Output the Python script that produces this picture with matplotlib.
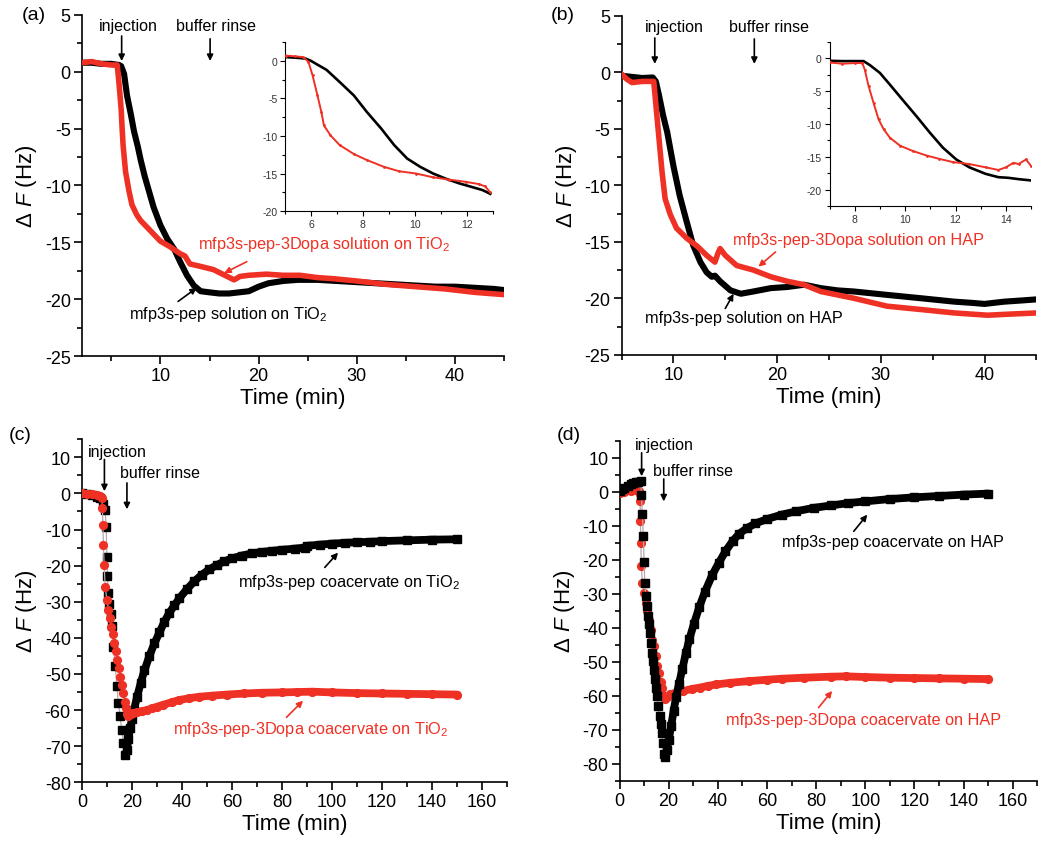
import numpy as np
import matplotlib
matplotlib.use("Agg")
import matplotlib.pyplot as plt
from matplotlib.ticker import MultipleLocator

plt.rcParams['font.family'] = ['Liberation Sans', 'DejaVu Sans']
plt.rcParams['mathtext.fontset'] = 'custom'
plt.rcParams['mathtext.rm'] = 'Liberation Sans'
plt.rcParams['mathtext.it'] = 'Liberation Sans:italic'
plt.rcParams['axes.unicode_minus'] = False

RED = '#EE3124'
BLACK = '#000000'

# ---------------- data (time in min, delta F in Hz) ----------------
# (a) solution on TiO2
a_black = [(2, 0.8), (3, 0.8), (4, 0.7), (5, 0.7), (5.8, 0.6), (6.0, 0.5), (6.3, -0.2), (6.6, -2.1),
           (7.0, -3.8), (7.3, -5.2), (7.7, -6.6), (8.0, -7.8), (8.4, -9.2), (8.8, -10.4), (9.3, -11.9),
           (10.0, -13.5), (10.7, -14.7), (11.4, -15.6), (12.0, -16.7), (12.7, -17.9), (13.4, -18.8),
           (14.1, -19.3), (15.0, -19.4), (16.0, -19.5), (17.0, -19.5), (18.0, -19.4), (19.0, -19.3),
           (20.0, -18.9), (21.0, -18.6), (22.5, -18.4), (24, -18.3), (26, -18.3), (28, -18.4),
           (30, -18.5), (32, -18.6), (34, -18.7), (36, -18.8), (38, -18.9), (40, -18.9), (42, -19.0),
           (44, -19.1), (45, -19.2)]
a_red = [(2, 0.8), (3, 0.9), (4, 0.7), (5, 0.6), (5.6, 0.6), (5.8, -1.2), (6.0, -3.3), (6.1, -5.0),
         (6.2, -6.5), (6.45, -8.8), (6.8, -10.5), (7.1, -11.7), (7.6, -12.6), (8.0, -13.1), (9.0, -14.0),
         (10.0, -14.9), (11.0, -15.4), (12.0, -16.0), (12.5, -16.2), (13.0, -16.9), (14.0, -17.1),
         (15.4, -17.4), (16.8, -18.0), (17.5, -18.3), (18.1, -18.0), (19.0, -17.9), (20.8, -17.8),
         (22.5, -17.9), (24.2, -17.9), (26, -18.1), (27.6, -18.2), (30, -18.4), (33, -18.7),
         (36, -18.9), (39, -19.1), (42, -19.4), (45, -19.6)]
a_in_black = [(5.05, 0.5), (5.5, 0.4), (5.8, 0.3), (6.0, 0.0), (6.6, -1.2), (7.1, -2.8), (7.65, -4.6),
              (8.15, -6.8), (8.7, -9.0), (9.2, -11.2), (9.7, -13.0), (10.2, -14.1), (10.7, -15.0),
              (11.2, -15.7), (11.7, -16.3), (12.2, -16.8), (12.6, -17.2), (12.9, -17.7)]
a_in_red = [(5.05, 0.7), (5.4, 0.6), (5.7, 0.5), (5.9, -0.1), (6.06, -1.9), (6.25, -4.6), (6.4, -6.8),
            (6.5, -8.6), (6.75, -9.9), (7.1, -11.2), (7.65, -12.4), (8.15, -13.2), (8.8, -14.1),
            (9.4, -14.7), (10.05, -15.0), (10.7, -15.5), (11.3, -15.8), (11.95, -16.1), (12.45, -16.4),
            (12.7, -16.7), (12.9, -17.5)]

# (b) solution on HAP
b_black = [(5, -0.3), (6, -0.4), (7, -0.5), (8, -0.45), (8.3, -0.8), (8.6, -2.0), (9.0, -3.8),
           (9.4, -5.3), (10.0, -8.3), (10.6, -10.9), (11.3, -13.3), (11.9, -15.3), (12.6, -16.8),
           (13.2, -17.7), (13.7, -18.1), (14.0, -18.0), (14.5, -18.5), (15.5, -19.3), (16.5, -19.6),
           (17.7, -19.4), (19.4, -19.1), (21, -19.0), (22.6, -18.8), (24.2, -19.1), (25.8, -19.3),
           (27.4, -19.4), (30.6, -19.7), (33.9, -20.0), (37.1, -20.3), (38.7, -20.4), (40, -20.5),
           (41.9, -20.3), (43.5, -20.2), (45, -20.1)]
b_red = [(5, -0.15), (5.5, -0.6), (6, -0.9), (7, -0.8), (8.1, -0.8), (8.2, -1.8), (8.4, -3.8),
         (8.7, -6.8), (8.9, -8.8), (9.2, -11.2), (9.7, -12.6), (10.3, -13.8), (11.3, -14.7),
         (12.3, -15.4), (13.2, -16.2), (14.0, -16.8), (14.3, -16.0), (14.5, -15.6), (15.0, -16.2),
         (16.1, -17.1), (17.7, -17.5), (19.4, -18.1), (21, -18.5), (22.6, -18.8), (24.2, -19.4),
         (27.4, -20.0), (30.6, -20.7), (33.9, -21.0), (37.1, -21.3), (40.3, -21.5), (42.5, -21.4),
         (45, -21.3)]
b_in_black = [(7.0, -0.35), (7.5, -0.4), (8.0, -0.4), (8.35, -0.4), (8.6, -1.0), (9.0, -2.2), (9.4, -4.0),
              (9.9, -6.3), (10.45, -8.8), (10.98, -11.3), (11.5, -13.6), (12.03, -15.4), (12.55, -16.6),
              (13.2, -17.6), (13.7, -18.1), (14.1, -18.2), (14.5, -18.4), (15.0, -18.6)]
b_in_red = [(7.0, -0.6), (7.5, -0.8), (8.0, -0.7), (8.3, -0.7), (8.4, -1.7), (8.55, -4.2), (8.75, -6.8),
            (8.95, -9.3), (9.15, -10.8), (9.4, -12.1), (9.8, -13.3), (10.3, -14.1), (10.85, -14.8),
            (11.35, -15.3), (11.9, -15.8), (12.55, -16.1), (13.2, -16.6), (13.7, -17.0), (14.0, -16.6),
            (14.3, -15.9), (14.5, -16.1), (14.8, -15.4), (15.0, -16.4)]

# (c) coacervate on TiO2
c_black = [(0, 0), (2, -0.1), (4, -0.4), (6, -0.9), (7.3, -1.4), (8.4, -2.8), (9.3, -4.6), (9.7, -9.2),
           (10.0, -17.5), (10.2, -23), (10.6, -27.6), (11.0, -30.5), (11.5, -33.5), (12.0, -36.8),
           (12.6, -42.4), (13.3, -47.9), (14.0, -53.4), (14.6, -58), (15.3, -61.7), (15.9, -65.5),
           (16.6, -69), (17.3, -72.5), (18.0, -71), (18.6, -68), (19.3, -65), (20.0, -62.5), (20.8, -60),
           (22, -56.5), (23.5, -52.5), (25, -49), (27, -45), (29, -41.5), (31, -38.5), (33, -35.5),
           (35, -33), (37, -31), (39, -29), (42, -26.5), (45, -24.3), (48, -22.5), (51, -21), (54, -19.8),
           (57, -18.8), (60, -18), (64, -17.2), (68, -16.6), (72, -16.2), (76, -15.9), (80, -15.6),
           (85, -15.3), (89, -15.0), (90, -14.5), (95, -14.2), (100, -13.9), (105, -13.7), (110, -13.5),
           (115, -13.4), (120, -13.2), (130, -13.0), (140, -12.8), (150, -12.7)]
c_red = [(0, 0), (2, -0.1), (4, -0.2), (6, -0.4), (7.3, -0.6), (8.0, -1.4), (8.2, -4.1), (8.4, -8.7),
         (8.6, -14.3), (8.9, -19.8), (9.3, -25.8), (10.0, -29.5), (10.6, -32.2), (11.2, -34.6),
         (11.8, -36.9), (12.4, -39.0), (13.0, -41.5), (13.6, -43.6), (14.2, -46.2), (14.8, -48.3),
         (15.4, -50.8), (16.0, -53.1), (16.6, -55.3), (17.2, -57.8), (17.7, -59.5), (18.2, -61.0),
         (18.6, -61.7), (19.5, -61.2), (20.6, -60.8), (22, -60.6), (24, -60.3), (26, -60.0), (28, -59.5),
         (30, -59.1), (32.6, -58.5), (36, -57.8), (39, -57.2), (43, -56.7), (47, -56.3), (52, -56.0),
         (58, -55.7), (65, -55.4), (72, -55.2), (80, -55.1), (86, -55.0), (92, -54.9), (100, -55.1),
         (110, -55.3), (120, -55.4), (130, -55.5), (140, -55.6), (150, -55.7)]

# (d) coacervate on HAP
d_black = [(0, 0.2), (1, 0.8), (2, 1.2), (3.3, 1.7), (4.5, 2.2), (5.5, 2.5), (6.7, 2.8), (7.7, 3.0),
           (8.7, 3.1), (8.9, -0.8), (9.3, -6.5), (9.7, -13), (10.0, -20.7), (10.3, -26.8), (10.7, -30.7),
           (11.1, -33.6), (11.6, -36.6), (12.0, -39), (12.4, -41.5), (12.7, -44.4), (13.1, -47.4),
           (13.6, -49.8), (14.0, -52.3), (14.4, -55.2), (14.9, -57.6), (15.3, -60), (15.7, -63),
           (16.3, -66), (16.7, -68.4), (17.1, -70.9), (17.6, -73.8), (18.0, -77.3), (18.4, -78),
           (19.2, -76), (20.0, -73), (21.0, -69), (22.0, -64.5), (23.0, -60.5), (24.2, -56.5),
           (25.6, -52), (27.0, -47.5), (28.4, -43.4), (30.2, -39), (32.4, -34), (34.7, -29.5),
           (37.7, -24.5), (40.3, -21), (43.1, -17.5), (46, -14.5), (48.7, -12.3), (52, -10.6),
           (55.3, -9.3), (60, -8.0), (66, -6.7), (72, -5.7), (79, -4.7), (86, -4.0), (93, -3.3),
           (100, -2.8), (110, -2.1), (120, -1.6), (130, -1.2), (140, -0.8), (150, -0.5)]
d_red = [(0, -0.3), (2, -0.1), (4.7, 0.2), (6.5, 0.7), (7.8, 0.4), (8.3, -0.5), (8.4, -2.7), (8.5, -8.6),
         (8.7, -15), (8.9, -21.9), (9.3, -26.8), (10.0, -29.7), (10.7, -32.6), (11.3, -35), (12.0, -37.6),
         (12.7, -40.6), (13.4, -43.5), (14.0, -45.5), (14.7, -48.3), (15.4, -51.2), (16.0, -53.2),
         (16.7, -56), (17.3, -57.6), (18.0, -60), (18.7, -61), (19.5, -60.3), (20.7, -59.6), (23, -59.1),
         (26, -58.6), (29.5, -58.0), (32.7, -57.6), (36, -57.1), (39.3, -56.7), (45, -56.2),
         (52.7, -55.7), (60, -55.3), (66, -55.0), (75, -54.7), (86, -54.4), (92, -54.3), (100, -54.5),
         (110, -54.7), (120, -54.8), (130, -54.9), (140, -55.0), (150, -55.1)]

# ---------------- drawing ----------------
fig = plt.figure(figsize=(10.5, 8.45), dpi=100)


def xy(pairs):
    arr = np.asarray(pairs, dtype=float)
    return arr[:, 0], arr[:, 1]


def style(ax, xmaj, xmin, ymaj, ymin, fs=13, lw=1.2, L=6, l=3.5):
    for s in ['top', 'right']:
        ax.spines[s].set_visible(False)
    for s in ['left', 'bottom']:
        ax.spines[s].set_linewidth(lw)
    ax.xaxis.set_major_locator(MultipleLocator(xmaj))
    ax.xaxis.set_minor_locator(MultipleLocator(xmin))
    ax.yaxis.set_major_locator(MultipleLocator(ymaj))
    ax.yaxis.set_minor_locator(MultipleLocator(ymin))
    ax.tick_params(which='major', direction='out', length=L, width=lw, labelsize=fs, pad=2)
    ax.tick_params(which='minor', direction='out', length=l, width=lw)


def arrow(ax, start, end, color):
    ax.annotate('', xy=end, xytext=start,
                arrowprops=dict(arrowstyle='-|>', color=color, lw=1.2,
                                mutation_scale=9, shrinkA=0, shrinkB=0))


def label_axes(ax):
    ax.set_xlabel('Time (min)', fontsize=16, labelpad=2)
    ax.set_ylabel('Δ $F$ (Hz)', fontsize=16, labelpad=4)


def solution_panel(rect, black, red, xlim, ins_rect, ins_black, ins_red, ins_xlim, ins_ylim, ins_xt):
    ax = fig.add_axes(rect)
    t, f = xy(black)
    ax.plot(t, f, color=BLACK, lw=4.4, solid_joinstyle='round', solid_capstyle='round', zorder=2)
    t, f = xy(red)
    ax.plot(t, f, color=RED, lw=4.0, solid_joinstyle='round', solid_capstyle='round', zorder=3)
    ax.set_xlim(*xlim)
    ax.set_ylim(-25, 5)
    style(ax, 10, 5, 5, 2.5)
    label_axes(ax)
    ins = fig.add_axes(ins_rect)
    t, f = xy(ins_black)
    ins.plot(t, f, color=BLACK, lw=1.9, zorder=2)
    t, f = xy(ins_red)
    ins.plot(t, f, color=RED, lw=1.4, zorder=3, marker='.', ms=2)
    ins.set_xlim(*ins_xlim)
    ins.set_ylim(*ins_ylim)
    style(ins, 2, 1, 5, 2.5, fs=7.5, lw=0.8, L=3.5, l=2)
    ins.set_xticks(ins_xt)
    ins.tick_params(labelcolor='#333333')
    return ax


def coacervate(ax, pairs, marker, color, ms, t_inj, z):
    t, f = xy(pairs)
    imin = int(np.argmin(f))
    ax.plot(t, f, color='#b8a8a8', lw=0.9, zorder=z)
    base = t <= t_inj
    ax.plot(t[base], f[base], color=color, lw=5.0, zorder=z, solid_capstyle='round')
    ax.plot(t[imin:], f[imin:], color=color, lw=5.6, zorder=z, solid_capstyle='round',
            solid_joinstyle='round')
    ax.plot(t, f, ls='none', marker=marker, ms=ms, color=color, mec=color, zorder=z)


def coacervate_panel(rect, black, red, ylim, black_top):
    ax = fig.add_axes(rect)
    zb, zr = (4, 3) if black_top else (3, 4)
    coacervate(ax, black, 's', BLACK, 5.4, 8.8, zb)
    coacervate(ax, red, 'o', RED, 5.6, 8.1, zr)
    ax.set_xlim(0, 170)
    ax.set_ylim(*ylim)
    style(ax, 20, 10, 10, 5)
    label_axes(ax)
    return ax


# (a)
ax_a = solution_panel([0.078, 0.5775, 0.402, 0.4036], a_black, a_red, (2, 45),
                      [0.2714, 0.749, 0.198, 0.200], a_in_black, a_in_red, (5, 13), (-20, 2.5),
                      [6, 8, 10, 12])
ax_a.text(6.7, 4.1, 'injection', fontsize=11.5, ha='center', va='center')
arrow(ax_a, (6.05, 3.15), (6.05, 0.95), BLACK)
ax_a.text(15.7, 4.1, 'buffer rinse', fontsize=11.5, ha='center', va='center')
arrow(ax_a, (15.06, 2.9), (15.06, 0.95), BLACK)
ax_a.text(13.8, -15.1, 'mfp3s-pep-3Dopa solution on TiO$_2$', color=RED, fontsize=11.7,
          ha='left', va='center')
arrow(ax_a, (18.8, -16.7), (16.5, -17.7), RED)
ax_a.text(6.8, -21.3, 'mfp3s-pep solution on TiO$_2$', color=BLACK, fontsize=11.7,
          ha='left', va='center')
arrow(ax_a, (11.8, -20.2), (13.7, -19.0), BLACK)

# (b)
ax_b = solution_panel([0.592, 0.579, 0.395, 0.401], b_black, b_red, (5, 45),
                      [0.790, 0.755, 0.192, 0.194], b_in_black, b_in_red, (7, 15), (-22.5, 2.5),
                      [8, 10, 12, 14])
ax_b.text(10.1, 4.1, 'injection', fontsize=11.5, ha='center', va='center')
arrow(ax_b, (8.2, 3.05), (8.2, 0.75), BLACK)
ax_b.text(19.2, 4.1, 'buffer rinse', fontsize=11.5, ha='center', va='center')
arrow(ax_b, (17.8, 2.96), (17.8, 0.75), BLACK)
ax_b.text(15.7, -14.8, 'mfp3s-pep-3Dopa solution on HAP', color=RED, fontsize=11.7,
          ha='left', va='center')
arrow(ax_b, (19.84, -15.9), (18.2, -17.2), RED)
ax_b.text(7.26, -21.7, 'mfp3s-pep solution on HAP', color=BLACK, fontsize=11.7,
          ha='left', va='center')
arrow(ax_b, (15.0, -20.9), (15.8, -19.6), BLACK)

# (c)
ax_c = coacervate_panel([0.078, 0.073, 0.405, 0.406], c_black, c_red, (-80, 15), black_top=False)
ax_c.text(14.2, 11.7, 'injection', fontsize=11.5, ha='center', va='center')
arrow(ax_c, (9.0, 9.4), (9.0, 0.6), BLACK)
ax_c.text(31.2, 5.7, 'buffer rinse', fontsize=11.5, ha='center', va='center')
arrow(ax_c, (18.0, 2.9), (18.0, -4.4), BLACK)
ax_c.text(62.5, -24.3, 'mfp3s-pep coacervate on TiO$_2$', color=BLACK, fontsize=11.7,
          ha='left', va='center')
arrow(ax_c, (97.1, -20.5), (102.4, -16.4), BLACK)
ax_c.text(36.6, -65.2, 'mfp3s-pep-3Dopa coacervate on TiO$_2$', color=RED, fontsize=11.7,
          ha='left', va='center')
arrow(ax_c, (81.8, -62.0), (88.4, -57.4), RED)

# (d)
ax_d = coacervate_panel([0.590, 0.075, 0.398, 0.402], d_black, d_red, (-85, 15), black_top=True)
ax_d.text(18.4, 13.9, 'injection', fontsize=11.5, ha='center', va='center')
arrow(ax_d, (9.0, 11.5), (9.0, 4.6), BLACK)
ax_d.text(29.7, 6.4, 'buffer rinse', fontsize=11.5, ha='center', va='center')
arrow(ax_d, (18.0, 3.8), (18.0, -2.8), BLACK)
ax_d.text(66, -14.5, 'mfp3s-pep coacervate on HAP', color=BLACK, fontsize=11.7,
          ha='left', va='center')
arrow(ax_d, (95.3, -11.6), (100.8, -6.7), BLACK)
ax_d.text(43.2, -67, 'mfp3s-pep-3Dopa coacervate on HAP', color=RED, fontsize=11.7,
          ha='left', va='center')
arrow(ax_d, (81, -63.5), (86.5, -58.6), RED)

# panel letters
fig.text(0.021, 0.982, '(a)', fontsize=14, va='center', ha='left')
fig.text(0.525, 0.982, '(b)', fontsize=14, va='center', ha='left')
fig.text(0.008, 0.485, '(c)', fontsize=14, va='center', ha='left')
fig.text(0.530, 0.485, '(d)', fontsize=14, va='center', ha='left')

fig.savefig('out.png', dpi=100)
